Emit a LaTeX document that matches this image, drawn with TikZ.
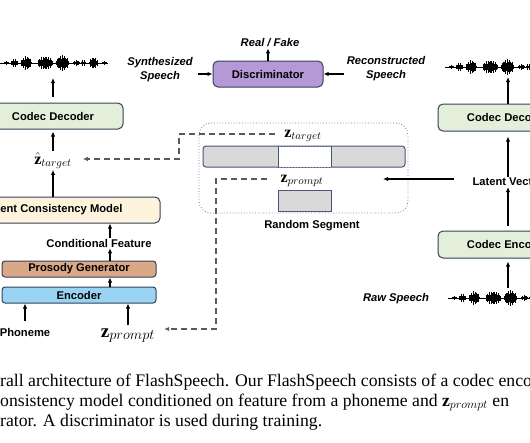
\documentclass[tikz,border=0pt]{standalone}
\usepackage{fontspec}
\setmainfont{Liberation Serif}
\newfontfamily\figfont{Liberation Sans}
\usetikzlibrary{arrows.meta}

\definecolor{boxline}{HTML}{34405E}
\definecolor{codecfill}{HTML}{E3EFD9}
\definecolor{lcmfill}{HTML}{FEF3DC}
\definecolor{prosfill}{HTML}{D9A887}
\definecolor{encfill}{HTML}{99D5F2}
\definecolor{discfill}{HTML}{B599D6}
\definecolor{seggray}{HTML}{D9D9D9}
\definecolor{segline}{HTML}{4A5478}
\definecolor{dotline}{HTML}{6A78A8}
\definecolor{dashgray}{HTML}{5A5A5A}

\tikzset{
	block/.style = {draw = boxline, line width = 1pt, rounded corners = 5pt, inner sep = 0pt,
		font = \figfont\bfseries\fontsize{11.2}{13}\selectfont},
	lbl/.style = {inner sep = 1pt, font = \figfont\bfseries\fontsize{11.2}{13}\selectfont},
	itlbl/.style = {lbl, align = center, font = \figfont\bfseries\itshape\fontsize{11.2}{14}\selectfont},
	zlbl/.style = {inner sep = 1pt, font = \fontsize{16}{18}\selectfont},
	arr/.style = {-{Latex[length = 5pt, width = 4.5pt]}, line width = 1.1pt},
	dasharr/.style = {arr, draw = dashgray, dash pattern = on 6pt off 4pt},
	captext/.style = {anchor = base west, inner sep = 0pt, font = \fontsize{17.7}{20}\selectfont}
}

% speech waveform, drawn from its left end
\newcommand{\speechwave}[1]{%
	\begin{scope}[shift = {#1}]
		\draw[line width = 0.8pt] (0, 0) -- (108, 0);
		\foreach \bx/\ba/\bw in {6/2/2, 14/4/3, 26/7/5, 45/7/7, 62/8/6, 76/3/3, 83/3/2, 93/6/4, 104/2/2}
		\foreach \k in {-\bw, ..., \bw}
		{
			\pgfmathsetmacro{\wh}{\ba*(0.3 + 0.7*cos(90*\k/(\bw + 1)))*(0.4 + 0.6*abs(sin(\k*77 + \bx*13)))}
			\draw[line width = 0.55pt] (\bx + \k, -\wh) -- (\bx + \k, \wh);
		}
	\end{scope}}

\begin{document}
\begin{tikzpicture}[x = 1pt, y = -1pt]

	\useasboundingbox (0, 0) rectangle (530, 442);
	\clip (0, 0) rectangle (530, 442);

	% Waveforms

	\speechwave{(0, 63)}
	\speechwave{(445, 67)}
	\speechwave{(448, 298)}

	% Left column: generation path

	\node[block, fill = codecfill, minimum width = 140pt, minimum height = 26pt] (decL) at (53, 116) {Codec Decoder};
	\coordinate (synout) at (53, 78);
	\draw[arr, shorten < = 6pt] (decL.north) -- (synout);

	\node[zlbl, anchor = base] (zhat) at (53, 164) {$\hat{\mathbf{z}}_{target}$};
	\draw[arr, shorten > = 2pt] (zhat.north) -- (decL.south);

	\node[block, fill = lcmfill, minimum width = 214pt, minimum height = 26pt] (lcm) at (53, 210) {Latent Consistency Model};
	\draw[arr] (lcm.north) -- (zhat.south);

	\node[lbl] (cond) at (99, 243) {Conditional Feature};
	\coordinate (condx) at (110, 0);
	\draw[arr] (cond.north -| condx) -- (lcm.south -| condx);

	\node[block, fill = prosfill, rounded corners = 3pt, minimum width = 154pt, minimum height = 16pt] (pros) at (79, 269) {Prosody Generator};
	\draw[arr] (pros.north -| condx) -- (cond.south -| condx);

	\node[block, fill = encfill, rounded corners = 3pt, minimum width = 154pt, minimum height = 16pt] (enc) at (79, 295) {Encoder};
	\draw[arr] (enc.north -| condx) -- (pros.south -| condx);

	\node[lbl, anchor = base] (phon) at (25, 336) {Phoneme};
	\node[inner sep = 1pt, anchor = base, font = \fontsize{19}{20}\selectfont] (zpl) at (128, 337) {$\mathbf{z}_{prompt}$};
	\draw[arr, shorten < = 6pt] (phon.north) -- (phon.north |- enc.south);
	\draw[arr, shorten < = 2pt] (zpl.north) -- (zpl.north |- enc.south);

	% Discriminator

	\node[block, fill = discfill, minimum width = 110pt, minimum height = 26pt] (disc) at (268, 74) {Discriminator};
	\node[itlbl] (rf) at (270, 43) {Real / Fake};
	\draw[arr] (disc.north) -- (disc.north |- rf.south);

	\node[itlbl] (syn) at (160, 70) {Synthesized\\Speech};
	\node[itlbl] (rec) at (386, 69) {Reconstructed\\Speech};
	\draw[arr, shorten < = 4pt] (syn.east |- disc.west) -- (disc.west);
	\draw[arr, shorten < = 2pt] (rec.west |- disc.east) -- (disc.east);

	% Random segment

	\draw[dotline, dotted, line width = 0.8pt, rounded corners = 12pt] (199, 123) rectangle (408, 213);

	\node[zlbl] (ztgt) at (303, 136) {$\mathbf{z}_{target}$};
	\draw[segline, fill = seggray, line width = 1pt, rounded corners = 3pt] (203, 146) rectangle (405, 167);
	\fill[white] (278, 146.5) rectangle (331, 166.5);
	\draw[segline, dotted, line width = 1pt] (278, 146) -- (331, 146) (278, 167) -- (331, 167);
	\draw[segline, line width = 1pt] (278, 146) -- (278, 167) (331, 146) -- (331, 167);

	\node[zlbl] (zpr) at (302, 181) {$\mathbf{z}_{prompt}$};
	\node[draw = segline, fill = seggray, line width = 1pt, inner sep = 0pt, minimum width = 53pt, minimum height = 21pt] (zpbox) at (304.5, 200.5) {};
	\node[lbl] (rsl) at (312, 226) {Random Segment};

	\coordinate (tgtbend) at (179, 159);
	\draw[dasharr, shorten < = 8pt, shorten > = 10pt] ([yshift = 2pt]ztgt.west) -| (tgtbend) -- (tgtbend -| zhat.east);

	\coordinate (prbend) at (216, 329);
	\draw[dasharr, shorten < = 12pt, shorten > = 8pt] ([yshift = 2pt]zpr.west) -| (prbend) -- (prbend -| zpl.east);

	% Right column: codec

	\node[block, fill = codecfill, minimum width = 140pt, minimum height = 27pt] (decR) at (508, 117.5) {Codec Decoder};
	\node[lbl] (lat) at (508, 182) {Latent Vector};
	\node[block, fill = codecfill, minimum width = 140pt, minimum height = 27pt] (encR) at (508, 244.5) {Codec Encoder};
	\node[itlbl] (raw) at (396, 299) {Raw Speech};

	\coordinate (recout) at (508, 77);
	\coordinate (rawin) at (508, 288);
	\coordinate (segin) at (383, 179);

	\draw[arr] (decR.north) -- (recout);
	\draw[arr, shorten > = 5pt] (lat.north) -- (decR.south);
	\draw[arr, shorten < = 5pt] (encR.north) -- (lat.south);
	\draw[arr, shorten > = 3pt] (rawin) -- (encR.south);
	\draw[arr, shorten < = 17pt] (lat.west |- segin) -- (segin);

	% Caption

	\node[captext] (cap1) at (0, 386) {rall architecture of FlashSpeech. Our FlashSpeech consists of a codec enco};
	\node[captext] (cap2) at (0, 406) {onsistency model conditioned on feature from a phoneme and $\mathbf{z}_{prompt}$ en};
	\node[captext] (cap3) at (0, 426) {rator. A discriminator is used during training.};

\end{tikzpicture}
\end{document}
